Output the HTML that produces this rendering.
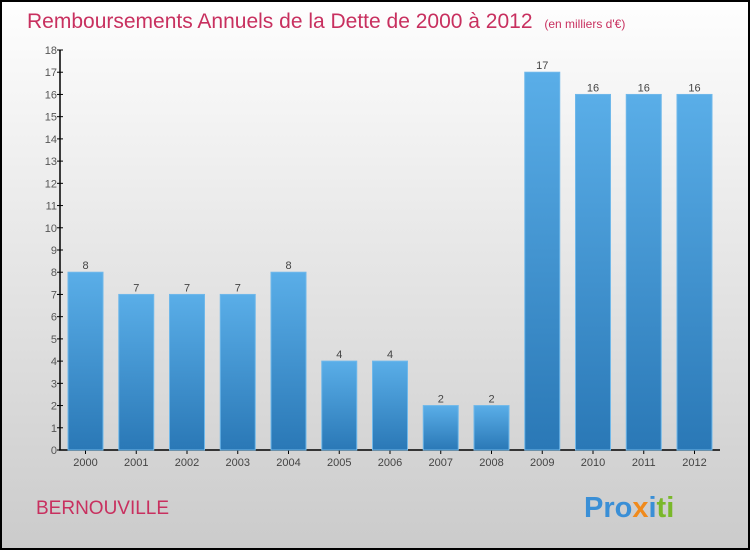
<!DOCTYPE html>
<html><head><meta charset="utf-8"><style>
body{margin:0;width:750px;height:550px;overflow:hidden}
svg{display:block;font-family:"Liberation Sans",sans-serif}
</style></head><body>
<svg width="750" height="550" viewBox="0 0 750 550">
<defs>
<linearGradient id="bg" x1="0" y1="0" x2="0" y2="1"><stop offset="0" stop-color="#fefefe"/><stop offset="1" stop-color="#cbcbcb"/></linearGradient>
<linearGradient id="bar" x1="0" y1="0" x2="0" y2="1"><stop offset="0" stop-color="#5aaee8"/><stop offset="1" stop-color="#2a78b6"/></linearGradient>
</defs>
<rect x="1" y="1" width="748" height="548" fill="url(#bg)" stroke="#000" stroke-width="2"/>
<text x="27" y="28" font-size="21" fill="#c8305f">Remboursements Annuels de la Dette de 2000 à 2012 <tspan font-size="12" dx="6">(en milliers d'€)</tspan></text>
<g id="axes"></g>
<g id="bars"></g>
<text x="36" y="514" font-size="19" fill="#c8305f">BERNOUVILLE</text>
<text x="584" y="517" font-size="29" font-weight="bold"><tspan fill="#3a8fd6">Pro</tspan><tspan fill="#f08a1c">x</tspan><tspan fill="#3a8fd6">i</tspan><tspan fill="#7ab82a">ti</tspan></text>
</svg>
<script>
const categories=["2000","2001","2002","2003","2004","2005","2006","2007","2008","2009","2010","2011","2012"];
const values=[8,7,7,7,8,4,4,2,2,17,16,16,16];
const yTicks=[0,1,2,3,4,5,6,7,8,9,10,11,12,13,14,15,16,17,18];
const NS="http://www.w3.org/2000/svg";
const y0=450,pxPer=400/18,x0=85.5,step=50.75,bw=35;
const yS=v=>y0-v*pxPer, xS=i=>x0+i*step;
function mk(t,a,p){const e=document.createElementNS(NS,t);for(const k in a)e.setAttribute(k,a[k]);p.appendChild(e);return e;}
const ax=document.getElementById('axes'),bg=document.getElementById('bars');
let l=mk('line',{x1:60,y1:yS(18),x2:60,y2:y0,stroke:'#000','stroke-width':1.5},ax);


l=mk('line',{x1:59,y1:y0,x2:720,y2:y0,stroke:'#000','stroke-width':1.5},ax);


yTicks.forEach(v=>{
 const t=mk('line',{x1:57,x2:63,y1:yS(v),y2:yS(v),stroke:'#000'},ax);
 
 
 const tx=mk('text',{x:57,y:yS(v)+4,'font-size':11,fill:'#555','text-anchor':'end'},ax);
 tx.textContent=v;
 
 
});
categories.forEach((c,i)=>{
 const v=values[i],x=xS(i);
 const r=mk('rect',{x:x-bw/2,y:yS(v),width:bw,height:y0-yS(v),fill:'url(#bar)',stroke:'#6fb8ea','stroke-width':1},bg);
 
 
 const vl=mk('text',{x:x,y:yS(v)-3,'font-size':11,fill:'#444','text-anchor':'middle'},bg);
 vl.textContent=v;
 
 
 const tk=mk('line',{x1:x,x2:x,y1:y0,y2:y0+4,stroke:'#000'},ax);
 
 
 const xl=mk('text',{x:x,y:y0+16,'font-size':11,fill:'#444','text-anchor':'middle'},ax);
 xl.textContent=c;
 
 
});
</script>
</body></html>
